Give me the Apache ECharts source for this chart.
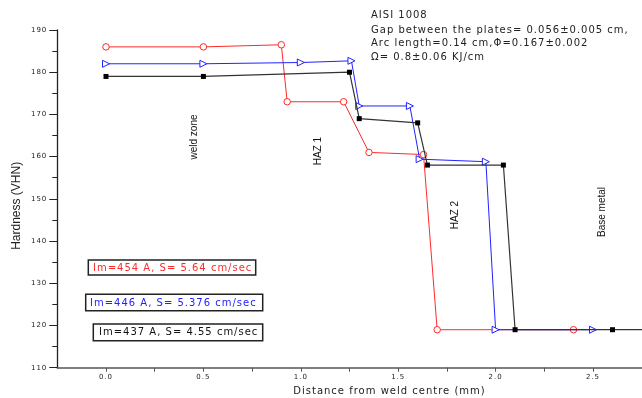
<!DOCTYPE html>
<html>
<head>
<meta charset="utf-8">
<script src="https://cdn.jsdelivr.net/npm/echarts@6/dist/echarts.min.js"></script>
<style>
  html, body { margin: 0; padding: 0; background: #fff; }
  #chart { width: 642px; height: 398px; }
</style>
</head>
<body>
<div id="chart"></div>
<script>
// Hardness profiles across the weld, three welding conditions
const redX   = [0.0, 0.5, 0.9, 0.93, 1.22, 1.35, 1.63, 1.7, 2.4];
const redY   = [186, 186, 186.5, 173, 173, 161, 160.5, 119, 119];
const blueX  = [0.0, 0.5, 1.0, 1.26, 1.3, 1.56, 1.61, 1.95, 2.0, 2.5];
const blueY  = [182, 182, 182.3, 182.7, 172, 172, 159.4, 158.8, 119, 119];
const blackX = [0.0, 0.5, 1.25, 1.3, 1.6, 1.65, 2.04, 2.1, 2.6, 2.8];
const blackY = [179, 179, 180, 169, 168, 158, 158, 119, 119, 119];

const seriesNames = ['Im=454 A, S= 5.64 cm/sec', 'Im=446 A, S= 5.376 cm/sec', 'Im=437 A, S= 4.55 cm/sec'];
const zoneLabels = ['weld zone', 'HAZ 1', 'HAZ 2', 'Base metal'];
const noteLines = [
  'AISI 1008',
  'Gap between the plates= 0.056\u00b10.005 cm,',
  'Arc length=0.14 cm,\u03a6=0.167\u00b10.002',
  '\u03a9= 0.8\u00b10.06 KJ/cm'
];

const RED = '#ff2a2a', BLUE = '#2222ff', BLACK = '#333333';
const pairs = (xs, ys) => xs.map((x, i) => [x, ys[i]]);

// The tick labels, notes and boxed labels use a widely tracked face:
// give DejaVu text 1px of letter spacing, everything else none.
(function () {
  const proto = CanvasRenderingContext2D.prototype;
  const origFill = proto.fillText;
  proto.fillText = function (t, x, y, w) {
    if ('letterSpacing' in this) {
      this.letterSpacing = /DejaVu/.test(this.font) ? '1px' : '0px';
    }
    return w === undefined ? origFill.call(this, t, x, y) : origFill.call(this, t, x, y, w);
  };
})();

const chart = echarts.init(document.getElementById('chart'), null, { renderer: 'canvas' });

const tickFont = { fontFamily: 'DejaVu Sans', fontSize: 7, color: '#222' };

const graphics = [];
// experimental notes, top right
noteLines.forEach((t, i) => {
  graphics.push({
    type: 'text', x: 371, y: [15.7, 30.7, 43.7, 57.3][i],
    style: { text: t, font: '10px "DejaVu Sans"', fill: '#222', verticalAlign: 'middle', align: 'left' }
  });
});
// zone labels, vertical
[[194.5, 137], [318, 151], [455, 215], [602, 212]].forEach((p, i) => {
  graphics.push({
    type: 'text', x: p[0], y: p[1], rotation: Math.PI / 2,
    style: { text: zoneLabels[i], font: '10px "Liberation Sans"', fill: '#111', align: 'center', verticalAlign: 'middle' }
  });
});
// boxed condition labels
const boxes = [
  { x: 88.3, y: 260, w: 167.4, h: 15, tx: 93, c: RED },
  { x: 85.7, y: 294.3, w: 177, h: 16.4, tx: 90, c: BLUE },
  { x: 93.3, y: 324, w: 169.4, h: 16.7, tx: 99, c: '#111' }
];
boxes.forEach((b, i) => {
  graphics.push({
    type: 'rect', shape: { x: b.x, y: b.y, width: b.w, height: b.h },
    style: { fill: '#fff', stroke: '#222', lineWidth: 1.5 }
  });
  graphics.push({
    type: 'text', x: b.tx, y: b.y + b.h / 2 + 0.5,
    style: { text: seriesNames[i], font: '10px "DejaVu Sans"', fill: b.c, verticalAlign: 'middle', align: 'left' }
  });
});

chart.setOption({
  animation: false,
  backgroundColor: '#fff',
  grid: { left: 57.3, right: 0.3, top: 30, bottom: 30.3, containLabel: false, outerBoundsMode: 'none' },
  xAxis: {
    type: 'value', min: -0.25, max: 2.75, interval: 0.25,
    name: 'Distance from weld centre (mm)', nameLocation: 'middle', nameGap: 19,
    nameTextStyle: { fontFamily: 'DejaVu Sans', fontSize: 10, color: '#222', padding: [0, 0, 0, 80] },
    axisLine: { show: true, onZero: false, lineStyle: { color: '#555', width: 1.5 } },
    axisTick: { show: true, inside: false, length: 4, lineStyle: { color: '#555', width: 1 } },
    axisLabel: {
      ...tickFont, margin: 6, showMinLabel: false, showMaxLabel: false,
      formatter: v => (Math.abs(v * 2 - Math.round(v * 2)) < 1e-6 ? v.toFixed(1) : '')
    },
    splitLine: { show: false }
  },
  yAxis: {
    type: 'value', min: 110, max: 190, interval: 10,
    name: 'Hardness (VHN)', nameLocation: 'middle', nameGap: 34, nameRotate: 90,
    nameTextStyle: { fontFamily: 'Liberation Sans', fontSize: 12, color: '#222', padding: [0, 14, 0, 0] },
    axisLine: { show: true, onZero: false, lineStyle: { color: '#222', width: 1.3 } },
    axisTick: { show: true, inside: false, length: 8, lineStyle: { color: '#222', width: 1 } },
    minorTick: { show: true, splitNumber: 2, length: 5, lineStyle: { color: '#222', width: 1 } },
    axisLabel: { ...tickFont, margin: 10 },
    splitLine: { show: false }
  },
  series: [
    {
      name: seriesNames[0], type: 'line', data: pairs(redX, redY), z: 2,
      symbol: 'circle', symbolSize: 6.5,
      lineStyle: { color: RED, width: 1 },
      itemStyle: { color: '#fff', borderColor: RED, borderWidth: 1 }
    },
    {
      name: seriesNames[1], type: 'line', data: pairs(blueX, blueY), z: 3,
      symbol: 'triangle', symbolSize: 7, symbolRotate: -90,
      lineStyle: { color: BLUE, width: 1 },
      itemStyle: { color: '#fff', borderColor: BLUE, borderWidth: 1 }
    },
    {
      name: seriesNames[2], type: 'line', data: pairs(blackX, blackY), z: 4,
      symbol: 'rect', symbolSize: 5,
      lineStyle: { color: BLACK, width: 1.2 },
      itemStyle: { color: '#000', borderColor: '#000', borderWidth: 0 }
    }
  ],
  graphic: graphics
});
</script>
</body>
</html>
